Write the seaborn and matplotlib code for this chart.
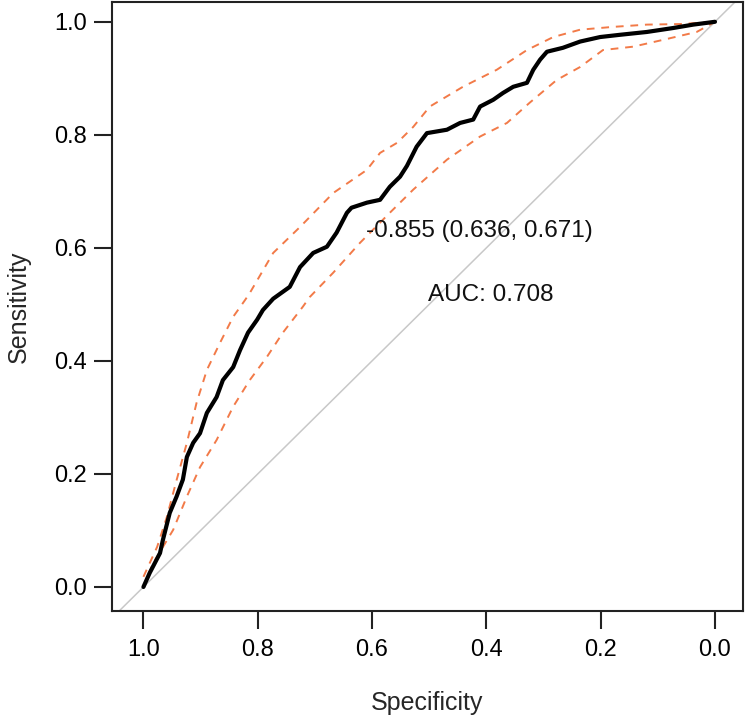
import matplotlib
matplotlib.use("Agg")
import matplotlib.pyplot as plt
import seaborn as sns
import pandas as pd

# ROC curve (specificity, sensitivity)
roc_spec = [1.0, 0.989, 0.971, 0.966, 0.954, 0.942, 0.931, 0.924, 0.913, 0.901, 0.889, 0.872,
            0.861, 0.843, 0.831, 0.817, 0.801, 0.791, 0.773, 0.744, 0.726, 0.703, 0.679, 0.662,
            0.644, 0.636, 0.609, 0.586, 0.569, 0.551, 0.539, 0.522, 0.504, 0.469, 0.446, 0.423,
            0.411, 0.388, 0.371, 0.353, 0.329, 0.318, 0.306, 0.294, 0.266, 0.236, 0.201, 0.166,
            0.119, 0.073, 0.038, 0.0]
roc_sens = [0.0, 0.025, 0.06, 0.083, 0.131, 0.16, 0.19, 0.23, 0.255, 0.272, 0.308, 0.336,
            0.366, 0.389, 0.419, 0.45, 0.473, 0.49, 0.51, 0.531, 0.566, 0.591, 0.602, 0.627,
            0.662, 0.671, 0.68, 0.685, 0.708, 0.726, 0.745, 0.779, 0.803, 0.809, 0.821, 0.827,
            0.85, 0.862, 0.874, 0.885, 0.892, 0.915, 0.933, 0.947, 0.954, 0.965, 0.973, 0.977,
            0.982, 0.989, 0.995, 1.0]

# Upper confidence bound
ci_up_spec = [1.0, 0.976, 0.959, 0.942, 0.924, 0.907, 0.889, 0.866, 0.843, 0.822, 0.814, 0.773,
              0.726, 0.668, 0.609, 0.586, 0.556, 0.528, 0.499, 0.441, 0.382, 0.329, 0.283, 0.236,
              0.178, 0.119, 0.061, 0.0]
ci_up_sens = [0.018, 0.071, 0.124, 0.189, 0.255, 0.326, 0.384, 0.432, 0.478, 0.508, 0.52, 0.591,
              0.637, 0.697, 0.738, 0.768, 0.786, 0.814, 0.85, 0.885, 0.915, 0.95, 0.973, 0.986,
              0.991, 0.995, 0.996, 1.0]

# Lower confidence bound
ci_lo_spec = [1.0, 0.983, 0.948, 0.924, 0.901, 0.872, 0.843, 0.814, 0.784, 0.756, 0.721, 0.709,
              0.668, 0.621, 0.569, 0.528, 0.469, 0.411, 0.364, 0.324, 0.277, 0.236, 0.196, 0.143,
              0.091, 0.032, 0.0]
ci_lo_sens = [0.0, 0.042, 0.101, 0.16, 0.212, 0.26, 0.319, 0.366, 0.407, 0.45, 0.496, 0.513,
              0.556, 0.609, 0.662, 0.703, 0.756, 0.797, 0.821, 0.857, 0.897, 0.92, 0.95, 0.956,
              0.968, 0.982, 1.0]

ticks = [1.0, 0.8, 0.6, 0.4, 0.2, 0.0]
tick_labels = ["1.0", "0.8", "0.6", "0.4", "0.2", "0.0"]
best_label = "-0.855 (0.636, 0.671)"
auc_label = "AUC: 0.708"

sns.set_style("white")
plt.rcParams['font.family'] = ['Liberation Sans', 'DejaVu Sans']

fig = plt.figure(figsize=(7.5, 7.19), dpi=100)
ax = fig.add_axes([112/750, 108/719, 631/750, 609/719])

ax.axline((1, 0), (0, 1), color="#c8c8c8", lw=1.1, zorder=1)

roc_df = pd.DataFrame({"spec": roc_spec, "sens": roc_sens})
up_df = pd.DataFrame({"spec": ci_up_spec, "sens": ci_up_sens})
lo_df = pd.DataFrame({"spec": ci_lo_spec, "sens": ci_lo_sens})

for d in (up_df, lo_df):
    sns.lineplot(data=d, x="spec", y="sens", sort=False, estimator=None, ax=ax,
                 color="#F27A48", lw=1.4, dashes=False, linestyle=(0, (4, 3.5)), zorder=2)
sns.lineplot(data=roc_df, x="spec", y="sens", sort=False, estimator=None, ax=ax,
             color="black", lw=3.0, zorder=3)

ax.text(0.611, 0.630, best_label, fontsize=17.5, ha="left", va="center", color="#111111")
ax.text(0.502, 0.517, auc_label, fontsize=17.5, ha="left", va="center", color="#111111")

ax.set_xlim(1.055, -0.049)
ax.set_ylim(-0.0425, 1.035)
ax.set_xticks(ticks)
ax.set_xticklabels(tick_labels, fontsize=17)
ax.set_yticks(ticks)
ax.set_yticklabels(tick_labels, fontsize=17)
ax.tick_params(axis="both", direction="out", length=13, width=1.5,
               colors="#222222", labelcolor="black", bottom=True, left=True)
ax.tick_params(axis="x", pad=7)
ax.tick_params(axis="y", pad=5)
for s in ax.spines.values():
    s.set_visible(True)
    s.set_color("#222222")
    s.set_linewidth(1.5)

ax.set_xlabel("Specificity", fontsize=18, labelpad=22)
ax.set_ylabel("Sensitivity", fontsize=18, labelpad=17)

fig.savefig("out.png", dpi=100)
